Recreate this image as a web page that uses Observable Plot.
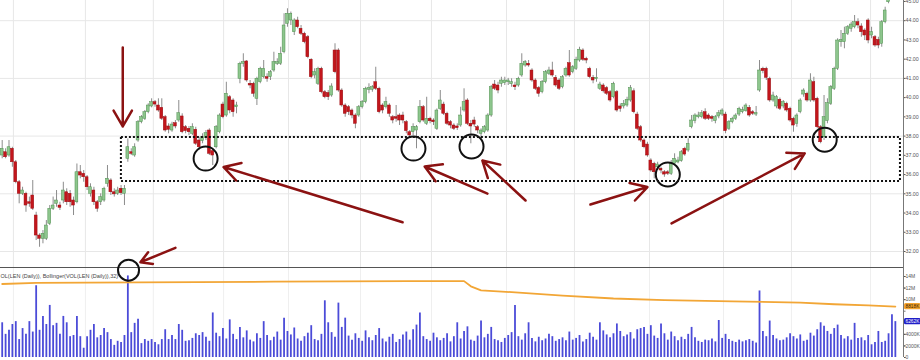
<!DOCTYPE html>
<html><head><meta charset="utf-8">
<script src="https://cdn.jsdelivr.net/npm/d3@7"></script>
<script src="https://cdn.jsdelivr.net/npm/@observablehq/plot@0.6"></script>
<style>
html,body{margin:0;padding:0;background:#fff;}
#chart{width:920px;height:360px;overflow:hidden;position:relative;background:#fff;}
#chart svg{display:block;}
</style></head><body><div id="chart"></div>
<script>
// ---- daily OHLC (price) ----
const opens = [36.99,37.16,36.99,37.34,36.64,35.60,35.00,35.00,34.56,34.91,33.87,32.83,32.66,32.66,33.44,34.22,34.48,34.39,34.65,35.08,35.00,34.65,34.56,36.12,36.04,35.86,35.00,35.17,34.56,34.56,34.65,35.52,35.69,35.08,35.00,35.26,35.00,36.82,37.16,36.99,37.77,38.72,38.90,39.24,39.54,39.76,39.59,39.47,38.98,38.50,38.29,38.67,38.81,39.02,38.46,38.38,38.12,38.33,37.77,37.74,37.91,38.29,37.22,37.42,38.20,39.64,39.07,40.02,39.85,39.50,40.98,41.76,41.88,40.72,40.72,39.94,40.80,41.06,41.06,41.06,41.41,41.76,41.76,42.36,43.84,44.01,43.40,44.01,43.58,43.32,43.14,41.97,41.15,40.72,41.50,40.28,40.24,40.11,42.45,42.45,40.37,39.59,39.50,39.33,39.07,39.07,39.50,39.76,40.41,40.41,40.80,40.46,39.59,39.50,39.59,38.98,38.98,39.07,39.07,38.72,38.20,38.20,38.29,38.72,39.50,38.64,38.90,38.81,38.38,39.41,39.64,39.16,38.72,38.55,38.50,38.55,39.33,39.85,38.64,38.81,38.46,38.12,38.20,38.29,39.07,40.68,40.63,40.72,40.75,40.80,40.70,40.63,40.63,41.15,41.67,41.76,41.41,40.89,40.50,40.28,40.80,41.24,41.41,41.03,40.89,40.54,41.15,41.79,41.32,41.50,41.93,42.45,42.02,41.50,41.03,40.96,40.46,40.63,40.50,40.28,40.02,40.28,39.54,39.54,39.59,39.85,40.33,39.12,38.46,37.77,37.56,36.73,36.56,36.38,36.30,36.12,36.12,36.04,36.56,36.63,36.70,37.34,37.25,38.46,38.78,38.98,38.98,39.24,39.07,38.98,38.78,39.02,39.12,39.12,38.38,38.72,38.90,39.12,39.24,39.30,39.47,39.24,39.12,40.37,41.50,41.50,40.98,39.85,39.54,39.89,39.54,39.68,39.42,38.90,38.64,39.24,40.16,40.20,39.85,40.80,39.94,38.46,37.94,38.78,39.68,40.46,41.50,42.88,42.88,43.32,43.58,43.66,43.92,43.70,43.49,44.01,43.23,43.14,43.00,42.80,43.92,44.96,45.30,45.55];
const highs = [37.77,37.34,37.77,37.42,36.73,35.69,35.34,35.08,34.83,35.69,34.04,32.92,33.09,33.61,34.39,34.83,35.17,34.56,35.60,35.26,35.17,34.83,36.55,36.47,36.21,35.95,35.52,35.34,34.65,35.00,35.34,36.47,35.78,35.26,35.34,35.43,35.43,37.85,37.34,37.60,38.81,39.07,39.33,39.68,39.94,39.85,39.94,39.94,39.07,38.64,38.72,38.81,39.85,39.16,38.55,38.50,38.64,38.46,37.94,38.12,38.29,38.38,37.34,38.55,39.16,39.76,40.80,40.11,39.94,39.76,41.84,42.28,41.93,40.89,40.80,41.06,41.58,41.93,41.24,41.41,42.36,42.02,42.62,44.36,44.62,44.45,44.10,44.18,43.75,43.40,43.23,42.02,41.50,41.58,41.58,40.37,40.37,40.72,42.80,42.54,40.46,39.68,39.59,39.41,39.16,39.59,39.85,40.54,40.72,40.63,41.58,40.54,39.68,40.02,39.68,39.07,39.59,39.16,39.24,38.81,38.29,38.64,38.55,39.85,39.59,40.02,38.98,38.90,39.41,40.37,39.76,39.24,38.81,38.64,38.64,39.50,40.46,39.94,38.81,38.98,38.55,38.38,38.55,39.16,40.63,40.89,40.80,41.06,41.06,41.00,40.98,40.80,41.06,42.28,41.93,41.93,41.50,40.98,40.58,40.89,41.41,41.58,41.84,41.15,40.98,41.15,41.58,42.45,41.67,42.10,42.62,42.54,42.10,41.58,41.15,41.50,40.80,40.72,40.58,40.37,40.80,40.37,39.68,39.85,40.02,40.63,40.46,39.24,38.55,37.85,37.68,36.82,36.64,36.64,36.38,36.21,36.21,36.73,37.08,36.90,37.25,37.42,37.86,39.07,39.16,39.24,39.33,39.42,39.16,39.07,39.07,39.33,39.42,39.24,38.81,38.98,39.16,39.50,39.50,39.68,39.59,39.33,39.54,41.93,41.58,41.58,41.06,40.28,40.11,39.98,39.85,39.76,39.50,38.98,39.16,39.94,40.46,40.28,41.24,41.06,40.02,38.55,40.11,39.94,40.63,41.58,43.06,43.49,43.66,43.75,43.92,44.27,44.10,43.84,43.58,44.10,43.66,43.23,43.14,44.01,44.70,45.50,45.70,45.90];
const lows = [36.82,36.82,36.90,36.38,35.52,34.48,34.91,34.04,34.30,34.13,32.57,32.22,32.40,32.57,33.35,34.13,34.30,34.13,34.48,34.39,34.30,33.87,34.48,35.78,35.60,35.17,34.83,34.39,34.04,34.39,34.56,35.34,34.91,34.83,34.91,34.91,34.39,36.64,36.99,36.90,37.68,38.64,38.81,39.16,39.47,39.50,39.24,38.81,38.20,38.12,38.20,38.38,38.72,38.12,38.12,38.03,38.03,37.51,37.25,37.60,37.77,36.99,36.47,37.34,38.12,38.90,38.98,39.16,38.98,39.16,40.72,41.58,40.80,40.46,40.02,39.59,40.72,40.98,40.80,40.89,41.32,41.67,41.67,42.28,43.66,43.75,43.23,43.58,43.23,42.80,42.02,40.98,40.98,40.63,40.20,39.94,39.85,40.02,41.24,40.28,39.50,38.98,39.07,38.90,38.38,38.98,39.41,39.68,40.20,40.28,40.37,39.16,39.16,39.41,38.98,38.64,38.72,38.55,38.64,38.12,37.94,38.03,37.34,38.64,38.72,38.55,38.64,38.55,38.29,39.33,39.07,38.55,38.38,38.29,38.29,38.46,39.24,38.55,37.60,38.46,38.12,37.94,38.12,38.20,38.98,40.37,40.20,40.54,40.63,40.63,40.54,40.37,40.54,41.06,41.58,41.58,40.80,40.37,40.02,40.20,40.72,41.15,41.06,40.54,40.37,40.46,41.06,41.06,41.24,41.41,41.84,41.88,41.76,40.98,40.72,40.80,40.37,40.24,40.11,39.76,39.94,39.24,39.24,39.41,39.50,39.76,39.16,38.29,37.68,37.34,36.90,36.12,35.78,36.21,36.04,35.86,35.95,35.95,36.47,36.56,36.64,36.95,37.16,38.38,38.64,38.90,38.90,38.81,38.81,38.72,38.64,38.90,39.02,38.12,38.29,38.64,38.81,39.02,39.16,39.24,38.98,39.07,39.02,40.28,41.24,40.89,39.76,39.76,39.42,39.33,39.42,39.24,38.72,38.20,38.46,39.16,40.02,39.76,39.76,39.76,38.38,37.60,37.77,38.64,39.59,40.37,41.41,42.62,42.54,43.23,43.40,43.58,43.58,43.14,42.97,42.80,43.06,42.62,42.54,42.62,43.84,44.88,45.10,45.30];
const closes = [37.34,36.90,37.42,36.64,35.60,35.00,35.17,34.39,34.48,34.22,32.83,32.66,32.92,33.35,34.22,34.39,34.65,34.27,35.17,34.56,34.56,34.39,36.12,35.95,35.86,35.34,35.34,34.56,34.22,34.83,35.26,35.78,35.08,34.97,35.17,35.03,35.26,37.42,37.08,37.42,38.72,38.98,39.24,39.59,39.76,39.64,39.33,38.90,38.29,38.33,38.60,38.50,39.19,38.20,38.26,38.20,38.46,37.60,37.42,37.94,38.15,37.08,36.99,38.46,39.07,38.98,40.20,39.33,39.24,39.59,41.76,41.84,40.89,40.63,40.20,40.98,41.50,41.50,40.98,41.32,41.84,41.84,42.28,43.75,44.36,44.36,44.01,43.66,43.32,42.88,42.10,41.06,41.32,41.50,40.28,40.02,40.02,40.58,41.32,40.37,39.59,39.16,39.24,39.07,38.64,39.50,39.76,40.46,40.50,40.54,40.46,39.24,39.33,39.76,39.16,38.81,38.90,38.81,38.81,38.26,38.03,38.46,38.46,39.50,38.81,38.90,38.77,38.72,39.33,39.85,39.16,38.64,38.55,38.38,38.41,39.07,39.76,38.64,38.50,38.60,38.29,38.29,38.46,39.07,40.54,40.46,40.37,40.89,40.89,40.89,40.80,40.54,40.98,41.76,41.84,41.67,40.89,40.46,40.20,40.80,41.32,41.41,41.15,40.63,40.46,41.06,41.50,41.15,41.58,41.97,42.49,41.97,41.93,41.06,40.89,41.03,40.68,40.33,40.20,39.85,40.72,39.33,39.41,39.68,39.89,40.50,39.24,38.38,37.77,37.42,36.99,36.21,36.12,36.52,36.21,36.00,36.04,36.59,36.82,36.73,37.16,37.04,37.60,38.81,39.07,39.07,39.19,38.90,38.90,38.90,38.98,39.19,39.33,38.26,38.72,38.90,39.07,39.42,39.36,39.59,39.07,39.16,39.19,41.41,41.38,41.03,39.85,40.11,40.02,39.42,39.76,39.33,38.81,38.55,39.07,39.85,40.37,39.85,40.89,39.85,38.46,37.68,38.98,39.71,40.54,41.50,42.97,43.00,43.32,43.66,43.80,43.92,43.75,43.40,43.23,42.97,43.40,42.71,42.71,43.92,44.53,45.30,45.55,45.75];
// ---- daily volume (millions) ----
const volumes = [6.0,4.0,4.7,5.7,6.2,3.1,5.0,4.0,6.2,4.4,12.4,4.7,7.1,5.7,9.0,5.5,5.9,4.0,7.1,6.0,3.6,3.8,7.1,3.6,1.6,3.6,4.7,5.7,3.4,3.8,5.0,4.3,3.1,2.1,2.8,2.6,3.8,14.1,4.3,5.9,6.6,2.4,3.1,2.8,3.1,2.6,2.2,3.1,4.8,3.1,3.8,3.1,5.7,4.7,2.8,2.9,3.3,4.1,3.8,4.3,
3.5,2.8,7.7,4.2,3.6,5.0,3.2,6.5,4.0,3.1,
5.2,3.4,4.6,3.0,2.7,4.1,3.3,6.2,3.8,2.9,
3.5,4.4,3.0,6.8,4.5,3.9,5.1,3.2,2.8,3.6,
4.2,5.5,3.1,2.9,4.0,9.8,6.0,4.3,3.5,9.4,
5.2,6.8,3.7,3.0,4.1,3.3,2.8,4.6,3.4,2.9,
3.8,5.0,3.2,2.7,3.5,4.0,2.6,3.1,3.9,4.4,
3.0,4.8,5.6,7.7,3.6,3.1,2.8,4.2,3.4,2.9,
3.3,4.1,2.7,3.6,6.0,3.2,4.5,5.3,3.0,2.8,
3.7,6.3,3.4,4.0,5.2,3.1,2.9,2.6,3.3,3.8,
4.3,9.0,3.6,3.0,4.1,6.0,3.3,2.7,3.5,2.9,
3.2,4.0,3.6,2.8,3.1,3.4,2.9,4.4,3.0,3.3,
3.8,2.7,3.1,4.2,3.5,3.0,6.0,4.6,3.9,3.4,
4.1,5.8,4.5,3.6,3.9,4.3,3.2,4.8,5.0,5.2,
4.0,5.5,3.7,3.3,5.8,4.1,3.0,4.4,3.6,2.9,
3.5,3.1,4.0,5.2,3.4,2.8,2.6,3.0,2.9,3.2,
2.7,6.4,3.3,4.0,3.1,2.8,2.6,3.0,2.7,2.9,
3.1,2.8,2.5,11.5,4.5,3.6,6.3,3.8,3.2,2.9,
3.0,3.4,4.1,3.6,3.2,3.9,2.8,3.0,4.2,3.7,
4.8,6.0,5.4,4.5,4.0,5.0,5.6,3.8,3.2,3.6,
3.0,5.9,3.3,
3.4,2.9,3.8,2.2,2.6,4.5,2.6,2.8,4.1,7.4,6.2];
// ---- Bollinger band of volume (day index, millions) ----
const bandDay = [0,10,40,80,120,136,138,141,150,165,180,195,215,235,245,255,263];
const bandVal = [12.7,12.9,13.0,13.1,13.2,13.2,12.3,11.6,11.3,10.7,10.2,9.9,9.7,9.5,9.2,9.0,8.8];
// ---- axes / grid ----
const priceTicks = [32,33,34,35,36,37,38,39,40,41,42,43,44,45];
const priceGrid = [32,35,38,41,44];
const monthStarts = [3.3,24.5,44.5,65.2,84.3,105.5,126.4,148.5,168.5,190.6,212.4,232.4,255.7];
const volTicks = [0,2,4,6,8,10,12,14];
const volLabelTicks = [0,2,4,10,12,14];
const volTagBand = "8818K";
const volTagLast = "6262K";
const studyLabel = "OL(LEN (Daily)), Bollinger(VOL(LEN (Daily)),32)";
// ---- annotations (day index, price) ----
const supportBox = {d1: 35.1, d2: 264.5, p1: 35.64, p2: 37.93};
const circleDay = [59.9,121.1,138.2,196.0,242.2];
const circlePrice = [36.83,37.35,37.46,36.00,37.81];
const arrowFromDay = [35.5,117.9,142.9,154.1,173.2,197.1,51.0];
const arrowFromPrice = [42.61,33.52,35.01,34.65,34.44,33.46,32.19];
const arrowToDay = [35.5,65.2,124.4,141.4,190.0,236.3,40.7];
const arrowToPrice = [38.50,36.39,36.42,36.73,35.35,37.10,31.44];
const volCircle = {day: 37.2, vol: 15.1};

const N = Math.min(opens.length, highs.length, lows.length, closes.length);
const rows = d3.range(N).map(i => ({i, o: opens[i], h: highs[i], l: lows[i], c: closes[i], up: closes[i] >= opens[i]}));
const vrows = volumes.map((v, i) => ({i, v}));
const band = bandDay.map((d, k) => ({i: d, v: bandVal[k]}));
const circles = circleDay.map((d, k) => ({i: d, p: circlePrice[k]}));
const arrows = arrowFromDay.map((d, k) => ({x1: d, y1: arrowFromPrice[k], x2: arrowToDay[k], y2: arrowToPrice[k]}));

const dx = 3.396, x0 = 1.7, frameW = 903;
const xDomain = [-x0 / dx, (frameW - x0) / dx];
const priceDomain = [31.168, 45.05];
const volDomain = [0, 90 / 5.786];
const font = "'Liberation Sans', Arial, sans-serif";
const darkRed = "#8b1212";

const price = Plot.plot({
  width: 920, height: 267, marginLeft: 0, marginRight: 17, marginTop: 0, marginBottom: 0,
  x: {domain: xDomain, axis: null},
  y: {domain: priceDomain, axis: null},
  style: {fontFamily: font, background: "#fff"},
  marks: [
    Plot.ruleY(priceGrid, {stroke: "#e7e7e7", strokeWidth: 1}),
    Plot.ruleX(monthStarts, {stroke: "#e7e7e7", strokeWidth: 1}),
    Plot.ruleX(rows, {x: "i", y1: "l", y2: "h", stroke: "#8c8c8c", strokeWidth: 1, clip: true}),
    Plot.rect(rows, {x1: d => d.i - 0.42, x2: d => d.i + 0.42, y1: "o", y2: "c",
      fill: d => d.up ? "#8dc68d" : "#c3161c", stroke: d => d.up ? "#4f8f4f" : "#9c0d12", strokeWidth: 0.5, clip: true}),
    Plot.rect([supportBox], {x1: "d1", x2: "d2", y1: "p1", y2: "p2", fill: "none", stroke: "#111", strokeWidth: 2, strokeDasharray: "2,2"}),
    Plot.dot(circles, {x: "i", y: "p", r: 12, stroke: "#111", strokeWidth: 2, fill: "none"}),
    Plot.arrow(arrows, {x1: "x1", y1: "y1", x2: "x2", y2: "y2", stroke: darkRed, strokeWidth: 2.5, headLength: 11, headAngle: 60}),
    Plot.ruleX([xDomain[1]], {stroke: "#777", strokeWidth: 1}),
    Plot.axisY({anchor: "right", ticks: priceTicks, tickFormat: d3.format(".2f"), tickSize: 1.5, tickPadding: 0.5, fontSize: 5.3, color: "#555", label: null})
  ]
});

const volFmt = v => v === 0 ? "0" : v >= 10 ? v + "M" : (v * 1000) + "K";
const lastBand = band[band.length - 1];
const lastVol = vrows[vrows.length - 1];
const tagX1 = (904 - x0) / dx, tagX2 = (920.5 - x0) / dx;
const tags = [
  {v: lastBand.v, fill: "#f3a530", text: volTagBand, color: "#3a2200"},
  {v: lastVol.v, fill: "#1e1ec8", text: volTagLast, color: "#ffffff"}
];

const vol = Plot.plot({
  width: 920, height: 93, marginLeft: 0, marginRight: 17, marginTop: 0, marginBottom: 3,
  x: {domain: xDomain, axis: null},
  y: {domain: volDomain, axis: null},
  style: {fontFamily: font, background: "transparent", overflow: "visible"},
  marks: [
    Plot.ruleX(monthStarts, {stroke: "#efefef", strokeWidth: 1}),
    Plot.ruleX(vrows, {x: "i", y1: 0, y2: "v", stroke: "#4b4bd8", strokeWidth: 1.8}),
    Plot.line(band, {x: "i", y: "v", stroke: "#f2a636", strokeWidth: 1.8}),
    Plot.ruleY([volDomain[1]], {stroke: "#555", strokeWidth: 1}),
    Plot.ruleX([xDomain[1]], {y1: 0, y2: volDomain[1], stroke: "#777", strokeWidth: 1}),
    Plot.axisY({anchor: "right", ticks: volTicks, tickFormat: null, text: null, tickSize: 1.5, label: null, stroke: "#777"}),
    Plot.axisY({anchor: "right", ticks: volLabelTicks, tickFormat: volFmt, tickSize: 1.5, tickPadding: 0.5, fontSize: 5, color: "#555", label: null}),
    Plot.rect(tags, {x1: tagX1, x2: tagX2, y1: d => d.v - 0.55, y2: d => d.v + 0.55, fill: "fill", rx: 1.5}),
    Plot.text(tags, {x: tagX1 + 0.3, y: "v", text: "text", fill: "color", fontSize: 4.8, textAnchor: "start"}),
    Plot.text([studyLabel], {frameAnchor: "top-left", dx: 0, dy: 9, lineAnchor: "middle", fontSize: 5.5, fill: "#444"}),
    Plot.dot([volCircle], {x: "day", y: "vol", r: 10.5, stroke: "#111", strokeWidth: 2, fill: "none"})
  ]
});

const root = document.getElementById("chart");
root.appendChild(price);
root.appendChild(vol);
</script>
</body></html>
